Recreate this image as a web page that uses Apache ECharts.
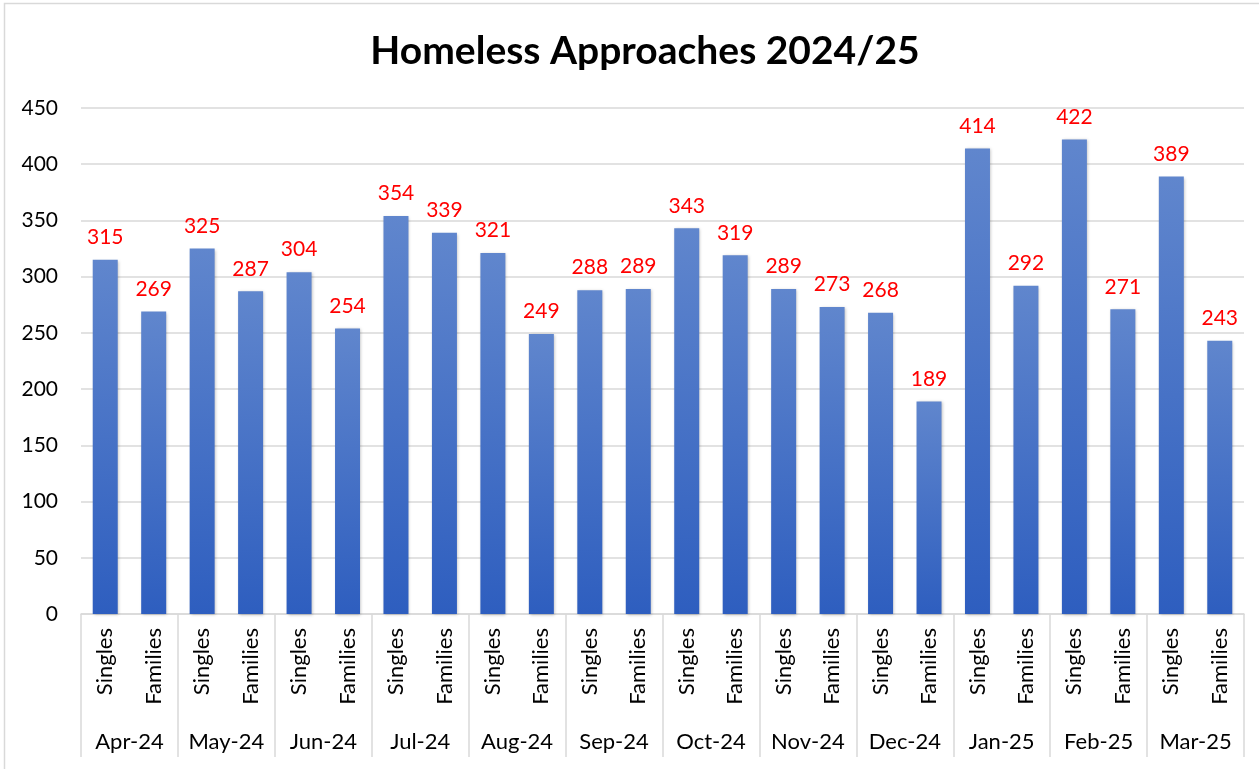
<!DOCTYPE html>
<html>
<head>
<meta charset="utf-8">
<script src="https://cdn.jsdelivr.net/npm/echarts@6/dist/echarts.min.js"></script>
<style>
  html, body { margin: 0; padding: 0; background: #fff; }
  #chart { width: 1259px; height: 769px; }
</style>
</head>
<body>
<div id="chart"></div>
<script>
  var months = ['Apr-24', 'May-24', 'Jun-24', 'Jul-24', 'Aug-24', 'Sep-24',
    'Oct-24', 'Nov-24', 'Dec-24', 'Jan-25', 'Feb-25', 'Mar-25']
  var groups = ['Singles', 'Families']
  var singles = [315, 325, 304, 354, 321, 288, 343, 289, 268, 414, 422, 389]
  var families = [269, 287, 254, 339, 249, 289, 319, 273, 189, 292, 271, 243]
  var yTicks = { min: 0, max: 450, step: 50 }

  // 24 bars: singles then families for each month
  var subCats = []
  var values = []
  months.forEach(function (m, i) {
    subCats.push(groups[0], groups[1])
    values.push(singles[i], families[i])
  })

  var font = 'Lato, "Liberation Sans", sans-serif'
  var grey = '#d9d9d9'

  var chart = echarts.init(document.getElementById('chart'))
  chart.setOption({
    animation: false,
    textStyle: { fontFamily: font },
    title: {
      text: 'Homeless Approaches 2024/25',
      left: 640,
      textAlign: 'center',
      top: 27,
      textStyle: { fontFamily: font, fontWeight: 'bold', fontSize: 39, color: '#000' }
    },
    graphic: [{
      type: 'rect',
      shape: { x: 4.5, y: 3.5, width: 1270, height: 790 },
      style: { fill: 'none', stroke: grey, lineWidth: 1.5 },
      silent: true
    }],
    grid: { left: 81, right: 15, top: 108, bottom: 155 },
    xAxis: [{
      type: 'category',
      data: subCats,
      axisLine: { show: false },
      axisTick: { show: false },
      axisLabel: {
        interval: 0,
        rotate: 90,
        margin: 14,
        fontSize: 22,
        color: '#000'
      }
    }, {
      type: 'category',
      data: months,
      position: 'bottom',
      axisLine: { show: true, lineStyle: { color: grey, width: 1.5 } },
      axisTick: { show: true, interval: 0, length: 143, lineStyle: { color: grey, width: 1.5 } },
      axisLabel: {
        interval: 0,
        margin: 117,
        fontSize: 22,
        color: '#000'
      }
    }],
    yAxis: {
      type: 'value',
      min: yTicks.min,
      max: yTicks.max,
      interval: yTicks.step,
      axisLine: { show: false },
      axisTick: { show: false },
      splitLine: { lineStyle: { color: grey, width: 1.5 } },
      axisLabel: { fontSize: 21, color: '#000', margin: 23 }
    },
    series: [{
      type: 'bar',
      xAxisIndex: 0,
      data: values,
      barWidth: 25,
      itemStyle: {
        color: new echarts.graphic.LinearGradient(0, 0, 0, 1, [
          { offset: 0, color: '#6086cd' },
          { offset: 1, color: '#2e5ebf' }
        ]),
        shadowColor: 'rgba(0,0,0,0.25)',
        shadowBlur: 3,
        shadowOffsetX: 1,
        shadowOffsetY: 1
      },
      label: {
        show: true,
        position: 'top',
        distance: 12,
        fontSize: 21,
        color: '#ff0000'
      }
    }]
  })
</script>
</body>
</html>
